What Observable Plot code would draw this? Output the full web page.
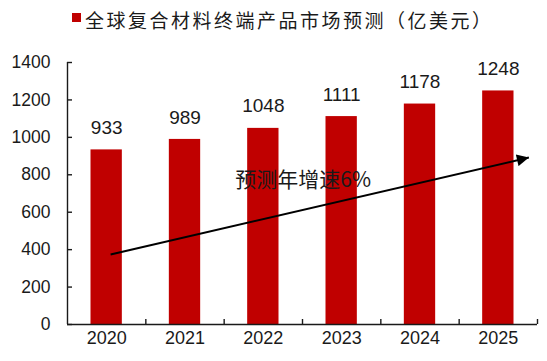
<!DOCTYPE html>
<html>
<head>
<meta charset="utf-8">
<script src="https://cdn.jsdelivr.net/npm/d3@7"></script>
<script src="https://cdn.jsdelivr.net/npm/@observablehq/plot@0.6"></script>
<style>
  html, body { margin: 0; padding: 0; background: #fff; }
  #wrap { width: 547px; height: 361px; position: relative; font-family: "Liberation Sans", "Noto Sans CJK SC", sans-serif; }
  #legend { height: 42px; position: relative; }
  #legend .sw { position: absolute; left: 72px; top: 13px; width: 9px; height: 9px; background: #C00000; }
  #legend .tx { position: absolute; left: 85px; top: 6px; font-family: "Noto Sans CJK SC", sans-serif; font-size: 19px; letter-spacing: 2.5px; line-height: 28px; color: #1a1a1a; white-space: nowrap; }
</style>
</head>
<body>
<div id="wrap">
  <div id="legend"><span class="sw"></span><span class="tx">全球复合材料终端产品市场预测（亿美元）</span></div>
  <div id="chart"></div>
</div>
<script>
// ---- data ----
const years = [2020, 2021, 2022, 2023, 2024, 2025];
const values = [933, 989, 1048, 1111, 1178, 1248];
const yTicks = [0, 200, 400, 600, 800, 1000, 1200, 1400];
const seriesName = "全球复合材料终端产品市场预测（亿美元）";
// trend annotation (arrow from start to end, in year / value units)
const trendYears = [2020.05, 2025.39];
const trendValues = [374, 892];
const trendLabel = "预测年增速6%";
const trendLabelYear = [2021.64];
const trendLabelValue = [769];

const data = years.map((y, i) => ({year: y, value: values[i]}));
const bounds = years.map(y => y + 0.5);
const barHalf = 0.2;
const ink = "#1a1a1a";

const plot = Plot.plot({
  width: 547,
  height: 319,
  marginTop: 20,
  marginBottom: 37,
  marginLeft: 67,
  marginRight: 10,
  style: {fontFamily: "'Liberation Sans', 'Noto Sans CJK SC', sans-serif", color: ink, background: "transparent"},
  x: {type: "linear", domain: [years[0] - 0.5, years[years.length - 1] + 0.5]},
  y: {domain: [0, 1400]},
  marks: [
    Plot.rectY(data, {x1: d => d.year - barHalf, x2: d => d.year + barHalf, y1: 0, y2: "value", fill: "#C00000"}),
    Plot.text(data, {x: "year", y: "value", text: d => String(d.value), dy: -22, fontSize: 19, fill: ink}),
    Plot.ruleY([0], {stroke: ink, strokeWidth: 1.4}),
    Plot.ruleX([years[0] - 0.5], {y1: 0, y2: 1400, stroke: ink, strokeWidth: 1.4}),
    Plot.axisY({ticks: yTicks, tickSize: -5, tickPadding: 22, fontSize: 17.5, label: null, tickFormat: d => String(d), stroke: ink, strokeWidth: 1.4}),
    Plot.axisX({ticks: years, tickSize: 0, tickPadding: 7, fontSize: 18, label: null, tickFormat: d => String(d)}),
    Plot.axisX({ticks: bounds, tickSize: -5, tickFormat: () => "", label: null, stroke: ink, strokeWidth: 1.4}),
    Plot.link([0], {x1: () => trendYears[0], y1: () => trendValues[0], x2: () => trendYears[1], y2: () => trendValues[1], stroke: "#000", strokeWidth: 2}),
    Plot.text([trendLabel], {x: () => trendLabelYear[0], y: () => trendLabelValue[0], text: d => d, textAnchor: "start", fontSize: 21, fill: ink, fontFamily: "'Noto Sans CJK SC', sans-serif"})
  ]
});

// filled arrowhead for the trend line
const svg = d3.select(plot);
const defs = svg.append("defs");
defs.append("marker")
  .attr("id", "trend-head")
  .attr("viewBox", "0 0 10 10")
  .attr("refX", 10).attr("refY", 5)
  .attr("markerWidth", 15).attr("markerHeight", 12)
  .attr("markerUnits", "userSpaceOnUse")
  .attr("orient", "auto")
  .append("path").attr("d", "M0,0L10,5L0,10Z").attr("fill", "#000");
svg.selectAll("g[aria-label='link'] path").attr("marker-end", "url(#trend-head)");

document.getElementById("chart").appendChild(plot);
</script>
</body>
</html>
